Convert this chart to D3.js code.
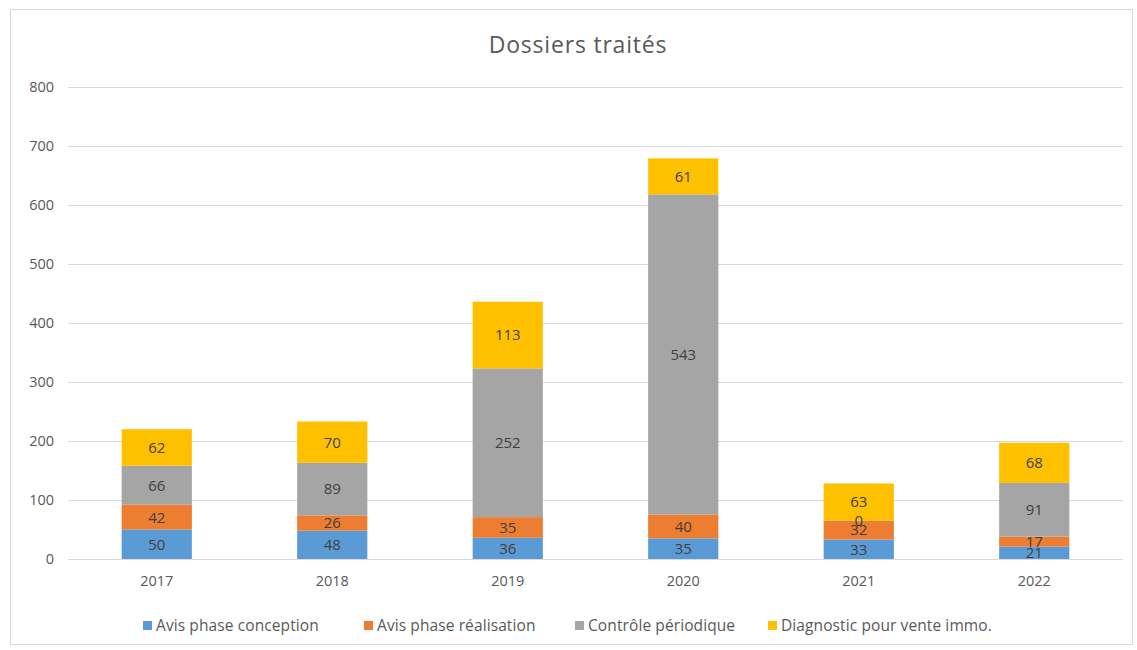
<!DOCTYPE html>
<html>
<head>
<meta charset="utf-8">
<script src="https://cdn.jsdelivr.net/npm/d3@7"></script>
<style>
  html, body { margin: 0; padding: 0; background: #fff; }
  svg { display: block; font-family: "Open Sans", "Noto Sans", sans-serif; }
</style>
</head>
<body>
<svg id="chart" width="1137" height="650"></svg>
<script>
// Years on the x axis
const years = ["2017", "2018", "2019", "2020", "2021", "2022"];

// Series names, in stacking order (bottom to top)
const seriesNames = [
  "Avis phase conception",
  "Avis phase réalisation",
  "Contrôle périodique",
  "Diagnostic pour vente immo."
];

// Values per series, one per year
const avisConception = [50, 48, 36, 35, 33, 21];
const avisRealisation = [42, 26, 35, 40, 32, 17];
const controlePeriodique = [66, 89, 252, 543, 0, 91];
const diagnosticVente = [62, 70, 113, 61, 63, 68];

const yTicks = [0, 100, 200, 300, 400, 500, 600, 700, 800];

const colors = ["#5B9BD5", "#ED7D31", "#A5A5A5", "#FFC000"];

const seriesValues = [avisConception, avisRealisation, controlePeriodique, diagnosticVente];

const rows = years.map((yr, i) => {
  const r = { year: yr };
  seriesNames.forEach((s, k) => { r[s] = seriesValues[k][i]; });
  return r;
});

const svg = d3.select("#chart");

// Chart frame
svg.append("rect")
  .attr("x", 10.5).attr("y", 9.5)
  .attr("width", 1122).attr("height", 635)
  .attr("fill", "#fff").attr("stroke", "#d9d9d9").attr("stroke-width", 1);

const plot = { left: 69, right: 1122, top: 87, bottom: 559 };

const x = d3.scaleBand()
  .domain(years)
  .range([plot.left, plot.right])
  .paddingInner(0.6)
  .paddingOuter(0.3);

const y = d3.scaleLinear()
  .domain([0, 800])
  .range([plot.bottom, plot.top]);

// Title
svg.append("text")
  .attr("x", 578).attr("y", 53)
  .attr("text-anchor", "middle")
  .attr("font-size", 23)
  .attr("letter-spacing", 0.8)
  .attr("fill", "#595959")
  .text("Dossiers traités");

// Gridlines
svg.append("g")
  .selectAll("line")
  .data(yTicks)
  .join("line")
  .attr("x1", plot.left - 1).attr("x2", plot.right + 1)
  .attr("y1", d => Math.round(y(d)) + 0.5)
  .attr("y2", d => Math.round(y(d)) + 0.5)
  .attr("stroke", "#d9d9d9")
  .attr("stroke-width", 1);

// Y axis labels
const yAxis = d3.axisLeft(y).tickValues(yTicks).tickSize(0).tickPadding(15);
const gy = svg.append("g").attr("transform", `translate(${plot.left},0)`).call(yAxis);
gy.select(".domain").remove();
gy.selectAll("text")
  .attr("font-size", 14.5).attr("fill", "#595959")
  .attr("font-family", "'Open Sans', sans-serif");

// X axis labels
const xAxis = d3.axisBottom(x).tickSize(0).tickPadding(17);
const gx = svg.append("g").attr("transform", `translate(0,${plot.bottom})`).call(xAxis);
gx.select(".domain").remove();
gx.selectAll("text")
  .attr("font-size", 14.5).attr("fill", "#595959")
  .attr("font-family", "'Open Sans', sans-serif");

// Stacked bars
const stack = d3.stack().keys(seriesNames);
const layers = stack(rows);

const layerG = svg.append("g")
  .selectAll("g")
  .data(layers)
  .join("g")
  .attr("fill", (d, i) => colors[i]);

layerG.selectAll("rect")
  .data(d => d)
  .join("rect")
  .attr("x", d => x(d.data.year))
  .attr("width", x.bandwidth())
  .attr("y", d => y(d[1]))
  .attr("height", d => y(d[0]) - y(d[1]));

// Value labels centred in each segment
const labelG = svg.append("g");
layers.forEach(layer => {
  layer.forEach(d => {
    labelG.append("text")
      .attr("x", x(d.data.year) + x.bandwidth() / 2)
      .attr("y", (y(d[0]) + y(d[1])) / 2)
      .attr("dy", "0.36em")
      .attr("text-anchor", "middle")
      .attr("font-size", 15)
      .attr("fill", "#404040")
      .text(d[1] - d[0]);
  });
});

// Legend
const legendX = [143, 364, 575, 768];
const legend = svg.append("g");
seriesNames.forEach((name, i) => {
  const g = legend.append("g").attr("transform", `translate(${legendX[i]},626)`);
  g.append("rect").attr("x", 0).attr("y", -5).attr("width", 9).attr("height", 9).attr("fill", colors[i]);
  g.append("text")
    .attr("x", 13).attr("y", 0)
    .attr("dy", "0.35em")
    .attr("font-size", 15.5)
    .attr("letter-spacing", 0.1)
    .attr("fill", "#595959")
    .text(name);
});
</script>
</body>
</html>
